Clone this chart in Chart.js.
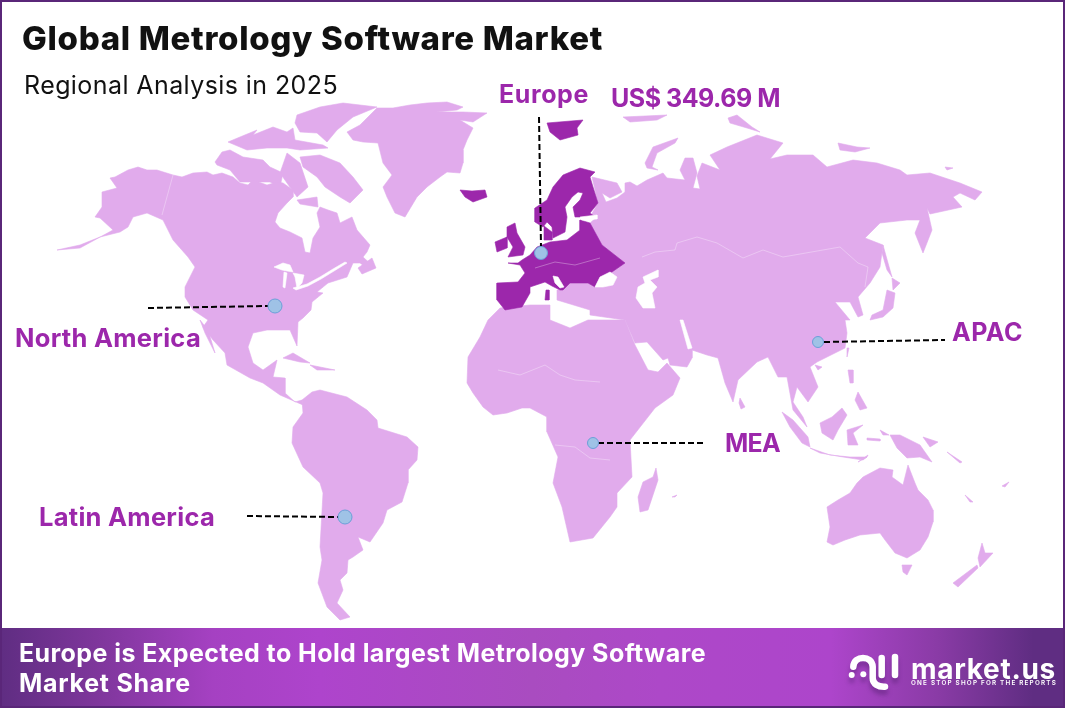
<!DOCTYPE html>
<html><head><meta charset="utf-8">
<script src="https://cdn.jsdelivr.net/npm/chart.js@4"></script>
<style>
html,body{margin:0;padding:0;background:#fff;overflow:hidden}
#wrap{position:relative;width:1065px;height:708px;overflow:hidden;background:#fff}
canvas{position:absolute;left:-8px;top:-8px}
#frame{position:absolute;left:0;top:0;width:1061px;height:704px;border:2px solid #5a2679;pointer-events:none}
#banner{position:absolute;left:0;top:628px;width:1065px;height:80px;background:linear-gradient(90deg,#5f2d82 0%,#7e369b 9%,#a541c2 20%,#ae44cc 30%,#a94cc0 50%,#ad48c8 62%,#ad45cb 78%,#8a3ba6 88%,#5f2d82 97%)}
.t{position:absolute;white-space:nowrap;font-family:Inter,"Noto Sans",sans-serif;line-height:1}
svg{position:absolute;left:846px;top:652px;filter:drop-shadow(0 5px 2px rgba(60,20,90,.35))}
</style></head><body>
<div id="wrap"><canvas id="c" width="1081" height="724" style="width:1081px;height:724px"></canvas><div id="banner"></div><div id="frame"></div>
<svg width="56" height="46" viewBox="0 0 56 46"><g fill="none" stroke="#fff" stroke-width="6.5" stroke-linecap="round"><path d="M7.3 14.7C8 3 26 3 26.7 14.7V26C26.7 32 32 35 39 34.7"/><path d="M35.7 23V6"/><path d="M49 23V5"/></g><g fill="#fff"><circle cx="5.7" cy="23" r="3"/><circle cx="17.3" cy="22.3" r="3"/></g></svg>
</div>
<script>
// Map outlines (x, y pairs in picture units)
const northAmerica=[110,178,115,177,128,170,138,167,147,170,157,170,173,175,182,177,193,173,207,172,213,175,222,173,233,177,240,183,248,185,253,180,267,185,277,182,283,183,293,190,293,197,287,203,278,213,275,222,280,228,290,232,302,238,305,252,310,253,313,238,320,227,317,213,320,207,328,210,337,213,340,223,352,217,357,230,370,245,367,252,363,257,375,268,368,269,360,263,353,263,347,277,328,283,317,292,323,293,312,302,311,310,303,318,298,322,297,346,290,330,267,330,253,333,248,347,253,363,263,370,277,360,273,377,285,378,285,393,295,402,302,400,303,405,280,395,263,383,250,378,227,365,225,353,213,340,203,327,208,320,193,310,185,297,185,287,195,267,188,257,173,240,163,220,147,213,133,217,128,227,120,232,100,237,80,245,57,250,80,248,113,230,100,218,95,217,102,207,102,192,117,188];
const banksIsland=[215,162,222,152,230,150,243,157,263,160,270,167,283,173,280,187,270,182,260,182,240,182,230,170,217,165];
const queenElizabeth=[228,142,240,137,257,130,253,135,273,127,287,132,293,128,295,140,323,145,328,148,300,150,287,148,267,148,247,150];
const ellesmere=[297,115,320,107,343,103,377,107,353,117,337,130,327,142,317,133,300,132,295,123];
const baffinIsland=[300,157,320,155,340,163,353,177,363,190,350,203,340,197,325,187,317,177,303,167];
const somersetIsland=[287,153,300,163,308,187,297,197,287,183,280,173];
const southampton=[297,200,317,197,318,207,300,204];
const newfoundland=[358,268,372,258,376,268,362,274];
const cuba=[283,358,293,353,310,363,300,362];
const hispaniola=[310,365,335,370,317,370];
const bajaCalifornia=[200,320,208,330,215,353,205,333];
const greenland=[347,132,360,125,377,108,393,108,410,105,427,103,447,102,463,107,457,110,437,112,463,112,487,113,473,122,460,120,473,128,467,140,463,150,463,163,460,173,447,172,440,177,427,187,417,197,405,217,395,213,387,197,383,187,392,175,383,163,378,143,363,142,353,140];
const eurasia=[592,177,617,183,622,192,610,198,602,193,606,202,617,198,625,192,625,183,630,182,637,186,647,180,663,173,667,178,685,180,680,170,685,158,693,158,697,173,693,188,700,189,697,176,702,163,720,170,710,155,727,147,757,135,783,143,770,159,787,155,813,155,827,167,853,160,877,163,900,170,907,175,930,173,960,183,982,192,975,200,960,193,953,197,962,207,930,214,927,208,932,230,923,253,915,233,920,220,907,220,880,223,865,238,883,245,880,267,870,283,858,297,863,315,858,317,850,302,835,302,850,320,845,320,847,333,845,348,827,357,817,362,810,367,818,387,808,402,797,387,793,402,803,417,807,427,793,410,787,377,778,377,768,357,757,362,738,380,733,402,725,383,718,358,707,355,692,350,692,358,687,367,670,365,668,358,663,360,647,342,635,343,625,320,590,315,590,310,557,300,557,290,563,290,570,283,588,283,595,287,612,272,625,263,602,245,590,223,597,217,590,217,598,203];
const africa=[488,320,480,337,468,357,467,383,473,393,483,407,493,415,507,413,522,408,530,408,547,417,547,432,558,457,553,483,562,507,570,542,593,538,610,517,617,507,617,493,632,477,630,440,655,408,673,395,680,378,667,363,658,372,648,370,635,345,625,320,588,320,570,328,550,320,550,305,530,305,500,308];
const southAmerica=[302,400,312,392,320,390,347,397,367,410,377,420,378,428,407,437,418,447,417,460,408,470,408,483,402,502,387,510,383,523,370,542,358,537,363,550,353,557,348,560,347,573,340,580,343,590,337,603,350,617,340,620,327,607,318,583,322,560,320,547,323,493,320,483,303,467,292,443,293,427,303,413];
const sumatra=[782,412,793,420,808,437,810,447,802,443,790,427];
const java=[810,448,830,455,850,457,867,457,863,460,843,457,820,453];
const borneo=[820,423,832,417,842,408,847,415,838,430,833,440,822,433];
const sulawesi=[847,430,863,425,853,433,858,445,848,445];
const luzon=[848,370,853,370,853,383,850,383];
const mindanao=[858,392,867,408,860,410,855,400];
const newGuinea=[890,435,900,435,920,445,932,462,920,457,907,458,897,448];
const australia=[827,507,838,500,850,493,857,483,863,477,880,468,893,470,892,477,903,485,908,465,915,483,918,490,928,500,933,510,933,522,928,537,920,550,907,558,895,553,885,540,880,533,860,535,845,540,833,545,827,542,830,527];
const tasmania=[902,565,912,565,907,575,903,572];
const newZealandNorth=[982,543,985,553,993,553,980,567,978,558];
const newZealandSouth=[953,583,977,565,978,568,958,587];
const madagascar=[656,468,658,480,648,510,640,512,638,497,643,482,653,477];
const sriLanka=[740,398,745,407,741,409,739,403];
const sakhalin=[883,245,888,263,892,277,887,270,882,253];
const hokkaido=[892,278,900,283,893,290];
const honshu=[887,290,895,293,893,308,883,317,870,320,872,315,883,310];
const taiwan=[847,348,849,348,847,357];
const hainan=[815,365,822,367,818,370];
const novayaZemlya=[645,163,653,147,678,138,675,143,657,153,652,167,658,170,647,168];
const newSiberian=[838,143,857,147,870,148,855,152,840,150];
const severnaya=[728,118,737,115,752,127,760,132,747,128,730,123];
const franzJosef=[623,117,667,115,657,120,630,122];
const wrangel=[945,167,953,168,947,170];
const lesserSunda=[867,438,880,439,880,441,867,440];
const timor=[858,462,868,455,867,457];
const moluccas=[880,430,889,435,883,435];
const newBritain=[923,437,938,442,930,447];
const solomonIslands=[947,452,962,462,960,463];
const newCaledonia=[965,495,973,502,970,502];
const fiji=[1002,486,1009,482,1005,487];
const reunion=[672,497,677,495,675,497];
// Europe, the highlighted region
const iceland=[460,190,472,191,485,190,487,197,473,202,465,197];
const svalbard=[547,123,583,120,577,128,578,135,560,140,550,132];
const greatBritain=[507,227,515,223,517,233,525,247,523,255,508,257,513,247,507,237];
const ireland=[495,242,507,237,507,248,497,252];
const scandinavia=[535,208,535,222,543,227,547,222,552,227,553,238,565,232,567,217,565,207,572,197,578,192,583,193,580,200,573,207,575,217,595,217,590,213,598,203,593,187,590,177,595,172,580,168,563,175,553,187,547,200];
const denmark=[544,226,552,232,552,240,544,240];
const sardinia=[546,290,549,290,549,300,545,300];
const continentalEurope=[497,283,497,300,505,310,522,307,530,293,530,287,545,282,552,286,560,290,563,290,570,283,588,283,595,287,600,277,612,272,625,263,602,245,590,223,580,220,580,230,567,240,550,242,537,247,530,255,522,260,518,263,508,263,520,265,525,273,518,282];
// Water cut out of the land
const caspianSea=[643,277,658,270,658,277,650,280,657,287,652,293,655,308,643,308,636,298,638,287,645,283];
const blackSea=[595,287,600,277,610,272,617,277,613,285,603,287];
const adriaticSea=[553,276,558,277,564,287,560,288,555,283];
const persianGulf=[680,320,683,320,692,348,688,349];
const gulfOfFinland=[580,217,597,215,597,219,582,220];
const lakeSuperior=[274,267,283,263,290,265,293,272,287,271,282,270];
const lakeMichigan=[284,272,287,273,285,288,283,287];
const lakeHuron=[293,273,304,275,302,283,297,288,295,277];
const lowerLakes=[293,288,307,284,320,277,333,269,345,262,347,263,334,271,321,279,308,286,296,290];
// Faint borders
const borderAlaska=[173,175,162,215];
const borderMongolia=[642,257,655,252,675,250,677,243,697,237,717,243,743,258,763,250,783,257,840,247,858,263,868,267,865,287];
const borderWestAfrica=[498,370,520,375,545,365,560,375,575,380,600,382];
const borderCentralAfrica=[555,445,575,447,590,458,610,460];
const borderEurope=[535,268,555,262,575,265,600,258];
// Callout markers and leader lines
const markerLocations=[[275,306],[541,253],[818,342],[593,443],[345,517]];
const markerSizes=[7,6.5,5.5,5.5,7];
const leaderNorthAmerica=[148,308,268,306];
const leaderEurope=[539,117,541,247];
const leaderApac=[824,342,945,340];
const leaderMea=[598,443,703,443];
const leaderLatinAmerica=[247,516,338,517];

const LIGHT='#e1abec',DARK='#9c27ab',SEA='#ffffff';
const lightShapes=[northAmerica,banksIsland,queenElizabeth,ellesmere,baffinIsland,somersetIsland,southampton,newfoundland,cuba,hispaniola,bajaCalifornia,greenland,eurasia,africa,southAmerica,sumatra,java,borneo,sulawesi,luzon,mindanao,newGuinea,australia,tasmania,newZealandNorth,newZealandSouth,madagascar,sriLanka,sakhalin,hokkaido,honshu,taiwan,hainan,novayaZemlya,newSiberian,severnaya,franzJosef,wrangel,lesserSunda,timor,moluccas,newBritain,solomonIslands,newCaledonia,fiji,reunion];
const darkShapes=[iceland,svalbard,greatBritain,ireland,scandinavia,denmark,sardinia,continentalEurope];
const seaShapes=[caspianSea,blackSea,adriaticSea,persianGulf,gulfOfFinland,lakeSuperior,lakeMichigan,lakeHuron,lowerLakes];
const borderLines=[borderAlaska,borderMongolia,borderWestAfrica,borderCentralAfrica,borderEurope];
const leaders=[leaderNorthAmerica,leaderEurope,leaderApac,leaderMea,leaderLatinAmerica];

const pts=a=>{const r=[];for(let i=0;i<a.length;i+=2)r.push({x:a[i],y:a[i+1]});return r;};
const closed=a=>{const p=pts(a);p.push(p[0]);return p;};
const shape=(a,color,order)=>({data:closed(a),showLine:true,fill:'shape',backgroundColor:color,borderColor:color,borderWidth:.6,pointRadius:0,order,clip:false});
const datasets=[
 ...lightShapes.map(a=>shape(a,LIGHT,6)),
 ...darkShapes.map(a=>shape(a,DARK,5)),
 ...seaShapes.map(a=>shape(a,SEA,4)),
 ...borderLines.map(a=>({data:pts(a),showLine:true,fill:false,borderColor:'rgba(255,255,255,.45)',borderWidth:.7,pointRadius:0,order:3})),
 ...leaders.map(a=>({data:pts(a),showLine:true,fill:false,borderColor:'#000',borderWidth:2,borderDash:[6,3],pointRadius:0,order:2})),
 {data:markerLocations.map(([x,y])=>({x,y})),showLine:false,pointRadius:markerSizes,pointBackgroundColor:'#9fc2e6',pointBorderColor:'#6c9fd8',pointBorderWidth:1,order:1}
];
new Chart(document.getElementById('c'),{type:'scatter',data:{datasets},options:{
 responsive:false,animation:false,events:[],
 layout:{padding:0},
 plugins:{legend:{display:false},tooltip:{enabled:false},title:{display:false}},
 elements:{line:{tension:0}},
 scales:{x:{type:'linear',display:false,min:0,max:1065},y:{type:'linear',display:false,min:0,max:708,reverse:true}}
}});

const labels=[
 ['Global Metrology Software Market',22,38,581,33,800,'#111'],
 ['Regional Analysis in 2025',24,85,314,25,400,'#111'],
 ['Europe',499,94,90,25,700,DARK],
 ['US$ 349.69 M',611,98,169,25,700,DARK],
 ['North America',15,338,186,25.5,700,DARK],
 ['Latin America',39,517,176,25.5,700,DARK],
 ['APAC',952,332,71,25,700,DARK],
 ['MEA',725,443,55,25,700,DARK],
 ['Europe is Expected to Hold largest Metrology Software',19,653,687,25,700,'#fff'],
 ['Market Share',19,683,172,25,700,'#fff'],
 ['market.us',911,669,145,28,700,'#fff'],
 ['ONE STOP SHOP FOR THE REPORTS',911,683,146,6.3,600,'#fff']
];
const wrap=document.getElementById('wrap');
labels.forEach(([s,x,cy,w,size,wt,col])=>{
 const d=document.createElement('div');d.className='t';d.textContent=s;
 d.style.cssText=`left:${x}px;top:${cy-size/2}px;font-size:${size}px;font-weight:${wt};color:${col}`;
 wrap.appendChild(d);
 d.style.letterSpacing=((w-d.getBoundingClientRect().width)/s.length)+'px';
});
</script></body></html>
